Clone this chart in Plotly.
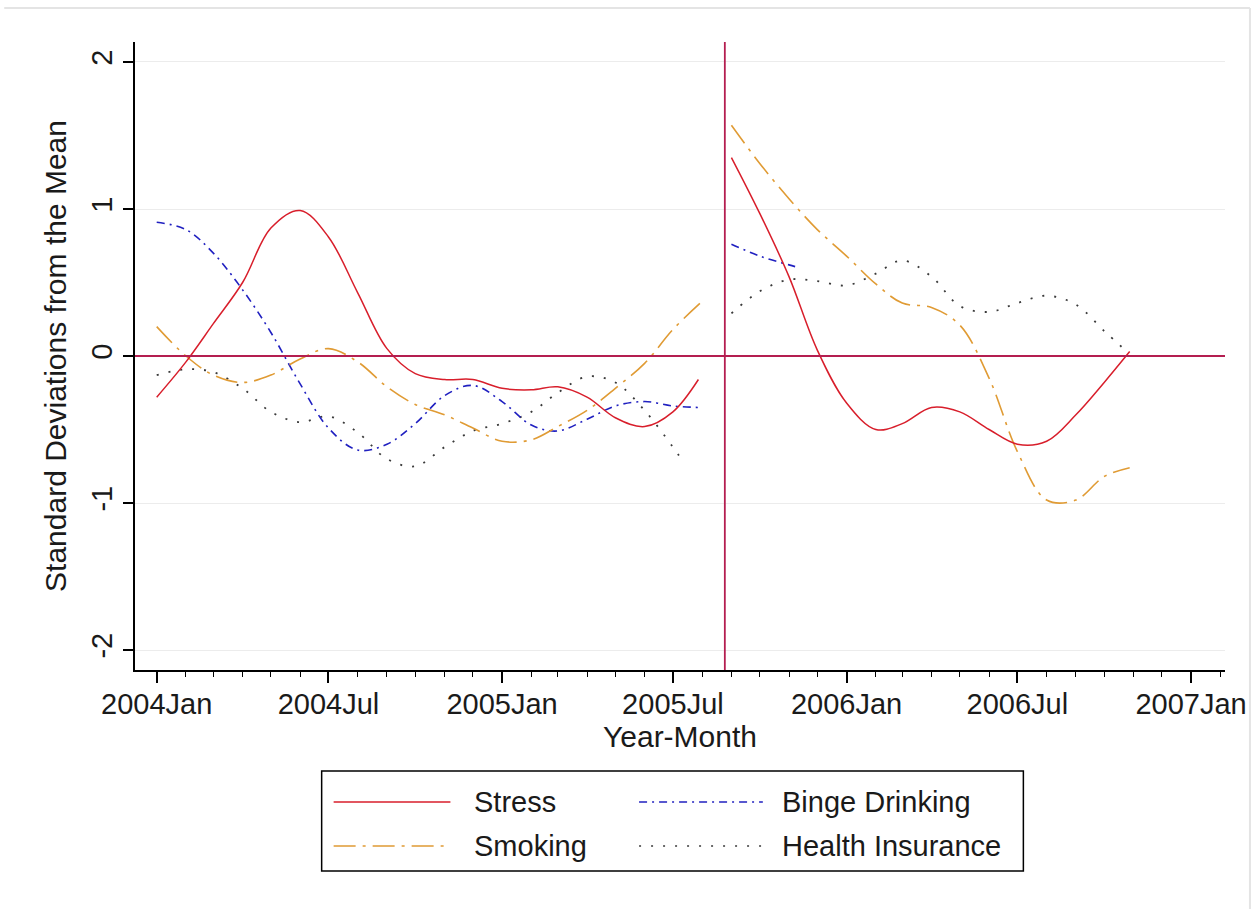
import plotly.graph_objects as go

# ---------------- data ----------------
pre_months = ["2004-01-01", "2004-02-01", "2004-03-01", "2004-04-01", "2004-05-01",
              "2004-06-01", "2004-07-01", "2004-08-01", "2004-09-01", "2004-10-01",
              "2004-11-01", "2004-12-01", "2005-01-01", "2005-02-01", "2005-03-01",
              "2005-04-01", "2005-05-01", "2005-06-01", "2005-07-01"]
post_months = ["2005-09-01", "2005-10-01", "2005-11-01", "2005-12-01", "2006-01-01",
               "2006-02-01", "2006-03-01", "2006-04-01", "2006-05-01", "2006-06-01",
               "2006-07-01", "2006-08-01", "2006-09-01", "2006-10-01"]

stress_pre_x = pre_months + ["2005-07-28"]
stress_pre = [-0.28, -0.04, 0.22, 0.50, 0.87, 0.99, 0.81, 0.43, 0.05, -0.12,
              -0.16, -0.16, -0.22, -0.23, -0.21, -0.28, -0.42, -0.48, -0.38, -0.16]
stress_post_x = post_months + ["2006-10-28"]
stress_post = [1.35, 0.97, 0.54, 0.04, -0.32, -0.50, -0.46, -0.35, -0.38, -0.50,
               -0.60, -0.58, -0.40, -0.18, 0.03]

smoking_pre_x = pre_months + ["2005-07-30"]
smoking_pre = [0.20, 0.00, -0.13, -0.18, -0.13, -0.02, 0.05, -0.04, -0.21, -0.33,
               -0.40, -0.49, -0.58, -0.57, -0.48, -0.37, -0.22, -0.05, 0.18, 0.36]
smoking_post_x = post_months + ["2006-10-28"]
smoking_post = [1.57, 1.31, 1.07, 0.86, 0.68, 0.49, 0.36, 0.33, 0.21, -0.15,
                -0.65, -0.98, -0.98, -0.82, -0.76]

binge_pre_x = pre_months + ["2005-07-28"]
binge_pre = [0.91, 0.86, 0.70, 0.45, 0.16, -0.19, -0.49, -0.64, -0.60, -0.46,
             -0.27, -0.20, -0.31, -0.47, -0.51, -0.43, -0.34, -0.31, -0.34, -0.35]
binge_post_x = ["2005-09-01", "2005-10-01", "2005-11-01", "2005-11-12"]
binge_post = [0.76, 0.68, 0.62, 0.60]

health_pre_x = pre_months + ["2005-07-12"]
health_pre = [-0.13, -0.09, -0.11, -0.22, -0.38, -0.45, -0.41, -0.52, -0.70, -0.75,
              -0.62, -0.51, -0.46, -0.38, -0.25, -0.14, -0.18, -0.37, -0.62, -0.72]
health_post_x = post_months + ["2006-10-25"]
health_post = [0.29, 0.44, 0.52, 0.51, 0.48, 0.56, 0.65, 0.54, 0.34, 0.30,
               0.36, 0.41, 0.35, 0.17, 0.03]

series_names = ["Stress", "Binge Drinking", "Smoking", "Health Insurance"]
event_date = "2005-08-25"
y_ticks = [-2, -1, 0, 1, 2]
y_tick_labels = ["-2", "-1", "0", "1", "2"]

# ---------------- styles ----------------
C_STRESS = "#D81E2B"
C_SMOKE = "#E09B34"
C_BINGE = "#2020C0"
C_HEALTH = "#3A3A3A"
C_REF = "#B41E50"
D_STRESS = "solid"
D_SMOKE = "22px,7px,3px,7px"
D_BINGE = "8px,5px,2px,5px"
D_HEALTH = "2px,10px"

FONT = "Liberation Sans, Arial, sans-serif"
FS = 29
FT = 30
TXT = "#1a1a1a"

fig = go.Figure()

def add(x, y, color, dash, width=1.6):
    fig.add_trace(go.Scatter(x=x, y=y, mode="lines",
                             line=dict(color=color, dash=dash, width=width, shape="spline"),
                             showlegend=False, hoverinfo="x+y"))

add(health_pre_x, health_pre, C_HEALTH, D_HEALTH, 1.8)
add(health_post_x, health_post, C_HEALTH, D_HEALTH, 1.8)
add(binge_pre_x, binge_pre, C_BINGE, D_BINGE)
add(binge_post_x, binge_post, C_BINGE, D_BINGE)
add(smoking_pre_x, smoking_pre, C_SMOKE, D_SMOKE)
add(smoking_post_x, smoking_post, C_SMOKE, D_SMOKE)
add(stress_pre_x, stress_pre, C_STRESS, D_STRESS, 1.5)
add(stress_post_x, stress_post, C_STRESS, D_STRESS, 1.5)

W, H = 1259, 909
ML, MR, MT, MB = 135, 32, 42, 239
PW, PH = W - ML - MR, H - MT - MB

def px(xp):
    return (xp - ML) / PW

def py(yp):
    return (H - MB - yp) / PH

shapes = []
# reference lines
shapes.append(dict(type="line", xref="paper", yref="y", x0=0, x1=1, y0=0, y1=0,
                   line=dict(color=C_REF, width=1.8), layer="above"))
shapes.append(dict(type="line", xref="x", yref="paper", x0=event_date, x1=event_date,
                   y0=0, y1=1, line=dict(color=C_REF, width=1.8), layer="above"))
# faint outer border
shapes.append(dict(type="line", xref="paper", yref="paper", x0=px(4), x1=px(1252),
                   y0=py(8), y1=py(8), line=dict(color="#E4E4E4", width=2)))
shapes.append(dict(type="line", xref="paper", yref="paper", x0=px(1252), x1=px(1252),
                   y0=py(8), y1=py(909), line=dict(color="#E4E4E4", width=2)))
# legend box
shapes.append(dict(type="rect", xref="paper", yref="paper", x0=px(322), x1=px(1025),
                   y0=py(771), y1=py(871), line=dict(color="black", width=1.5),
                   fillcolor="white"))

legend_items = [
    (series_names[0], C_STRESS, D_STRESS, 334, 451, 473, 802),
    (series_names[1], C_BINGE, D_BINGE, 640, 764, 781, 802),
    (series_names[2], C_SMOKE, D_SMOKE, 334, 451, 473, 846),
    (series_names[3], C_HEALTH, D_HEALTH, 640, 764, 781, 846),
]
annotations = []
for name, col, dash, sx0, sx1, tx, ry in legend_items:
    shapes.append(dict(type="line", xref="paper", yref="paper", x0=px(sx0), x1=px(sx1),
                       y0=py(ry), y1=py(ry), line=dict(color=col, dash=dash, width=1.6)))
    annotations.append(dict(xref="paper", yref="paper", x=px(tx), y=py(ry), text=name,
                            showarrow=False, xanchor="left", yanchor="middle",
                            font=dict(family=FONT, size=FS, color=TXT)))

fig.update_layout(
    width=W, height=H,
    margin=dict(l=ML, r=MR, t=MT, b=MB, pad=0),
    paper_bgcolor="white", plot_bgcolor="white",
    font=dict(family=FONT, size=FS, color=TXT),
    showlegend=False,
    shapes=shapes, annotations=annotations,
    xaxis=dict(
        type="date", range=["2003-12-09", "2007-02-06"],
        tick0="2004-01-01", dtick="M6", tickformat="%Y%b",
        ticks="outside", ticklen=11, tickwidth=1.5, tickcolor="black",
        ticklabelstandoff=-4,
        showline=True, linecolor="black", linewidth=1.5,
        showgrid=False, zeroline=False,
        minor=dict(dtick="M1", ticks="outside", ticklen=5, tickwidth=1.2,
                   tickcolor="black", showgrid=False),
        title=dict(text="Year-Month", standoff=3, font=dict(size=FT, family=FONT, color=TXT)),
    ),
    yaxis=dict(
        range=[-2.136, 2.136], tickvals=y_ticks, ticktext=y_tick_labels, tickangle=-90,
        ticks="outside", ticklen=10, tickwidth=1.5, tickcolor="black",
        showline=True, linecolor="black", linewidth=1.5,
        showgrid=True, gridcolor="#ECECEC", gridwidth=1, zeroline=False,
        title=dict(text="Standard Deviations from the Mean", standoff=10,
                   font=dict(size=FT, family=FONT, color=TXT)),
    ),
)

fig.write_html("out.html", config={"displayModeBar": False},
               post_script="document.body.style.margin='0';document.body.style.overflow='hidden';")
